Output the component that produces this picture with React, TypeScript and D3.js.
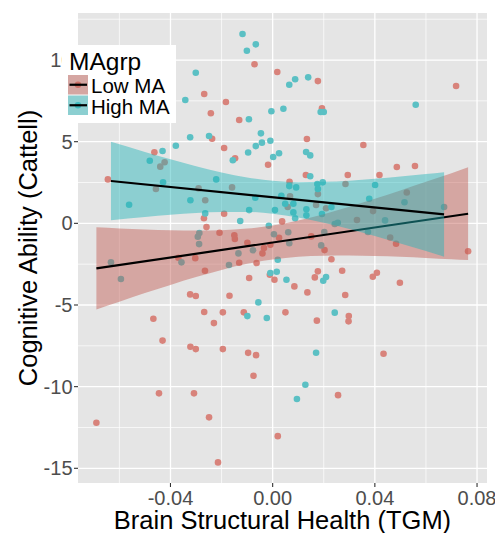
import React from "react";
import * as d3 from "d3";

const lowX = [-0.0268,-0.0183,-0.0242,-0.0131,-0.0237,-0.0190,-0.0463,-0.0147,-0.0645,-0.0071,
0.0018,0.0177,0.0718,0.0193,0.0134,0.0355,-0.0018,0.0486,0.0557,0.0130,
0.0294,0.0418,0.0066,-0.0423,-0.0440,-0.0457,-0.0290,-0.0159,-0.0264,0.0177,
0.0285,0.0068,0.0059,0.0170,0.0209,0.0037,0.0025,0.0151,0.0483,-0.0099,
-0.0034,-0.0040,-0.0009,0.0203,-0.0063,0.0230,0.0765,-0.0131,-0.0011,-0.0092,
0.0007,0.0177,0.0165,0.0272,0.0408,0.0392,0.0498,0.0085,0.0136,0.0284,
-0.0113,0.0050,0.0173,0.0298,0.0297,-0.0190,-0.0269,-0.0259,-0.0208,-0.0150,
-0.0148,-0.0369,-0.0303,-0.0265,-0.0323,-0.0301,-0.0169,-0.0467,-0.0268,-0.0195,
-0.0230,-0.0431,-0.0322,-0.0301,-0.0195,-0.0096,-0.0445,-0.0308,-0.0249,-0.0690,
-0.0214,-0.0065,0.0434,-0.0075,0.0256,0.0020,0.0525,0.0393,0.0330,0.0460];
const lowY = [7.92,7.43,6.74,6.33,5.18,4.61,4.35,3.98,2.69,9.74,
9.27,8.71,8.41,7.04,5.16,4.80,3.59,3.45,3.51,2.96,
2.96,2.96,2.55,3.74,3.47,2.10,2.14,2.20,1.41,1.79,
2.41,1.65,1.00,1.12,0.92,0.12,-0.88,-0.80,-1.25,-1.19,
-1.51,-1.84,-1.31,-1.64,-2.43,-2.20,-1.71,-2.41,-3.15,-3.35,
-3.45,-2.94,-3.31,-2.90,-3.03,-3.27,-3.64,-3.86,-4.23,-4.39,
-5.45,-5.45,-5.96,-5.68,-6.00,0.59,0.31,-0.23,-0.58,-0.73,
-0.96,-2.11,-2.13,-2.90,-4.35,-4.45,-4.43,-5.84,-5.43,-5.45,
-6.11,-7.18,-7.56,-7.70,-7.70,-7.93,-10.41,-10.41,-11.88,-12.21,
-14.64,-8.07,-7.99,-9.33,-10.52,-13.03,1.89,0.75,0.20,-0.87];

const highX = [-0.0118,-0.0101,-0.0066,-0.0301,-0.0342,-0.0093,-0.0323,-0.0249,-0.0379,-0.0431,
-0.0096,-0.0481,-0.0156,-0.0221,0.0088,0.0065,0.0139,0.0560,0.0188,0.0200,
-0.0005,0.0042,-0.0046,-0.0066,-0.0042,-0.0009,0.0002,0.0025,0.0131,0.0147,
0.0147,0.0065,0.0092,0.0175,0.0196,0.0177,0.0401,-0.0068,0.0034,0.0049,
0.0081,0.0230,-0.0092,0.0009,0.0081,0.0132,0.0132,0.0088,0.0193,0.0378,
0.0516,0.0671,0.0440,-0.0127,-0.0015,0.0243,0.0255,0.0373,0.0005,0.0061,
0.0202,0.0065,0.0190,-0.0077,-0.0134,0.0020,-0.0009,0.0016,0.0054,0.0209,
0.0198,-0.0056,-0.0099,-0.0023,0.0243,-0.0429,-0.0562,-0.0322,-0.0264,-0.0287,
-0.0293,-0.0288,-0.0633,-0.0594,-0.0357,-0.0171,0.0170,0.0128,0.0095];
const highY = [11.59,10.57,10.96,9.22,7.55,6.37,5.27,5.35,4.75,4.43,
4.34,3.83,3.86,2.69,8.82,8.49,8.94,7.26,6.82,6.82,
6.86,7.02,5.51,4.73,4.94,5.06,4.06,4.29,4.37,4.16,
2.88,2.28,2.20,2.41,2.51,2.10,2.35,1.57,1.69,1.20,
1.20,1.00,0.81,0.81,0.67,0.86,0.49,0.31,0.57,1.51,
1.29,1.00,0.18,0.14,-0.15,-0.04,0.04,-0.53,-0.67,-0.55,
-0.53,-1.22,-1.35,-1.65,-1.84,-2.23,-3.04,-2.96,-3.45,-3.29,
-3.52,-4.84,-5.68,-5.80,-5.47,2.51,1.14,1.41,0.61,-0.59,
-0.82,-1.27,-2.39,-3.41,-2.39,-2.55,-7.92,-9.88,-10.76];

const lowBandX = [-0.069,-0.06,-0.05,-0.04,-0.03,-0.02,-0.01,0,0.01,0.02,0.03,0.04,0.05,0.06,0.07,0.0765];
const lowBandUpper = [-0.24,-0.31,-0.37,-0.42,-0.44,-0.42,-0.32,-0.13,0.17,0.56,1.01,1.50,2.01,2.54,3.07,3.43];
const lowBandLower = [-5.27,-4.80,-4.27,-3.77,-3.29,-2.85,-2.48,-2.22,-2.05,-1.98,-1.97,-2.00,-2.05,-2.12,-2.20,-2.25];
const highBandX = [-0.0633,-0.05,-0.04,-0.03,-0.02,-0.01,0,0.01,0.02,0.03,0.04,0.05,0.06,0.0671];
const highBandUpper = [4.99,4.37,3.92,3.50,3.12,2.81,2.61,2.52,2.54,2.61,2.73,2.87,3.02,3.13];
const highBandLower = [0.19,0.39,0.53,0.64,0.70,0.70,0.59,0.36,0.04,-0.35,-0.78,-1.23,-1.70,-2.04];

const lowFitX = [-0.069, 0.0765];
const lowFitY = [-2.76, 0.587];
const highFitX = [-0.0633, 0.0671];
const highFitY = [2.592, 0.547];

const xTicks = [-0.04, 0, 0.04, 0.08];
const xTickLabels = ["-0.04", "0.00", "0.04", "0.08"];
const xMinor = [-0.06, -0.02, 0.02, 0.06];
const yTicks = [-15, -10, -5, 0, 5, 10];
const yTickLabels = ["-15", "-10", "-5", "0", "5", "10"];
const yMinor = [-12.5, -7.5, -2.5, 2.5, 7.5, 12.5];

const groups = ["Low MA", "High MA"];
const legendTitle = "MAgrp";
const xTitle = "Brain Structural Health (TGM)";
const yTitle = "Cognitive Ability (Cattell)";

const W = 495, H = 533;
const P = { left: 78, right: 487, top: 13, bottom: 483 };
const FONT = "'Liberation Sans', Arial, Helvetica, sans-serif";
const PANEL = "#E5E5E5";
const RED_PT = "#D8837B";
const CYAN_PT = "#5BC0C4";
const RED_RIB = "#C1594F";
const CYAN_RIB = "#1FB4B8";
const RIB_OP = 0.45;

export default function App() {
  const x = d3.scaleLinear().domain([-0.0762, 0.0839]).range([P.left, P.right]);
  const y = d3.scaleLinear().domain([-15.9, 12.88]).range([P.bottom, P.top]);

  const band = (xs: number[], lo: number[], hi: number[]) =>
    d3.area<number>()
      .x((_, i) => x(xs[i]))
      .y0((_, i) => y(lo[i]))
      .y1((_, i) => y(hi[i]))
      .curve(d3.curveMonotoneX)(xs);
  const fit = (xs: number[], ys: number[]) =>
    d3.line<number>().x((_, i) => x(xs[i])).y((_, i) => y(ys[i]))(xs);

  const keyY = [75, 95.5];
  const keyCol = [[RED_RIB, RED_PT], [CYAN_RIB, CYAN_PT]];

  return (
    <svg width={W} height={H} style={{ position: "absolute", left: 0, top: 0, background: "white" }} fontFamily={FONT}>
      <rect x={P.left} y={P.top} width={P.right - P.left} height={P.bottom - P.top} fill={PANEL} />
      {xMinor.map((v) => (
        <line key={"xm" + v} x1={x(v)} x2={x(v)} y1={P.top} y2={P.bottom} stroke="white" strokeWidth={0.7} />
      ))}
      {yMinor.map((v) => (
        <line key={"ym" + v} y1={y(v)} y2={y(v)} x1={P.left} x2={P.right} stroke="white" strokeWidth={0.7} />
      ))}
      {xTicks.map((v) => (
        <line key={"xM" + v} x1={x(v)} x2={x(v)} y1={P.top} y2={P.bottom} stroke="white" strokeWidth={1.3} />
      ))}
      {yTicks.map((v) => (
        <line key={"yM" + v} y1={y(v)} y2={y(v)} x1={P.left} x2={P.right} stroke="white" strokeWidth={1.3} />
      ))}

      {lowX.map((v, i) => (
        <circle key={"l" + i} cx={x(v)} cy={y(lowY[i])} r={3.3} fill={RED_PT} />
      ))}
      {highX.map((v, i) => (
        <circle key={"h" + i} cx={x(v)} cy={y(highY[i])} r={3.3} fill={CYAN_PT} />
      ))}

      <path d={band(lowBandX, lowBandLower, lowBandUpper) || ""} fill={RED_RIB} fillOpacity={RIB_OP} />
      <path d={fit(lowFitX, lowFitY) || ""} stroke="black" strokeWidth={2.2} fill="none" />
      <path d={band(highBandX, highBandLower, highBandUpper) || ""} fill={CYAN_RIB} fillOpacity={RIB_OP} />
      <path d={fit(highFitX, highFitY) || ""} stroke="black" strokeWidth={2.2} fill="none" />

      {xTicks.map((v, i) => (
        <g key={"xt" + v}>
          <line x1={x(v)} x2={x(v)} y1={P.bottom} y2={P.bottom + 4} stroke="#333" strokeWidth={1.1} />
          <text x={x(v)} y={504.5} textAnchor="middle" fontSize={20} fill="#4D4D4D">{xTickLabels[i]}</text>
        </g>
      ))}
      {yTicks.map((v, i) => (
        <g key={"yt" + v}>
          <line x1={P.left - 4} x2={P.left} y1={y(v)} y2={y(v)} stroke="#333" strokeWidth={1.1} />
          <text x={72.5} y={y(v) + 7} textAnchor="end" fontSize={20} fill="#4D4D4D">{yTickLabels[i]}</text>
        </g>
      ))}

      <text x={(P.left + P.right) / 2} y={528.5} textAnchor="middle" fontSize={25.5} fill="black">{xTitle}</text>
      <text transform={`translate(37,${(P.top + P.bottom) / 2}) rotate(-90)`} textAnchor="middle" fontSize={25.5} fill="black">{yTitle}</text>

      <rect x={62} y={45} width={114} height={78} fill="white" />
      <text x={69} y={70} fontSize={24.5} fill="black">{legendTitle}</text>
      {groups.map((g, i) => (
        <g key={g}>
          <rect x={68} y={keyY[i]} width={20} height={19.5} fill={PANEL} />
          <circle cx={78} cy={keyY[i] + 9.75} r={3.3} fill={keyCol[i][1]} />
          <rect x={68} y={keyY[i]} width={20} height={19.5} fill={keyCol[i][0]} fillOpacity={RIB_OP} />
          <line x1={69.5} x2={87} y1={keyY[i] + 9.75} y2={keyY[i] + 9.75} stroke="black" strokeWidth={2.2} />
          <text x={91} y={keyY[i] + 18} fontSize={20.5} fill="black">{g}</text>
        </g>
      ))}
    </svg>
  );
}
